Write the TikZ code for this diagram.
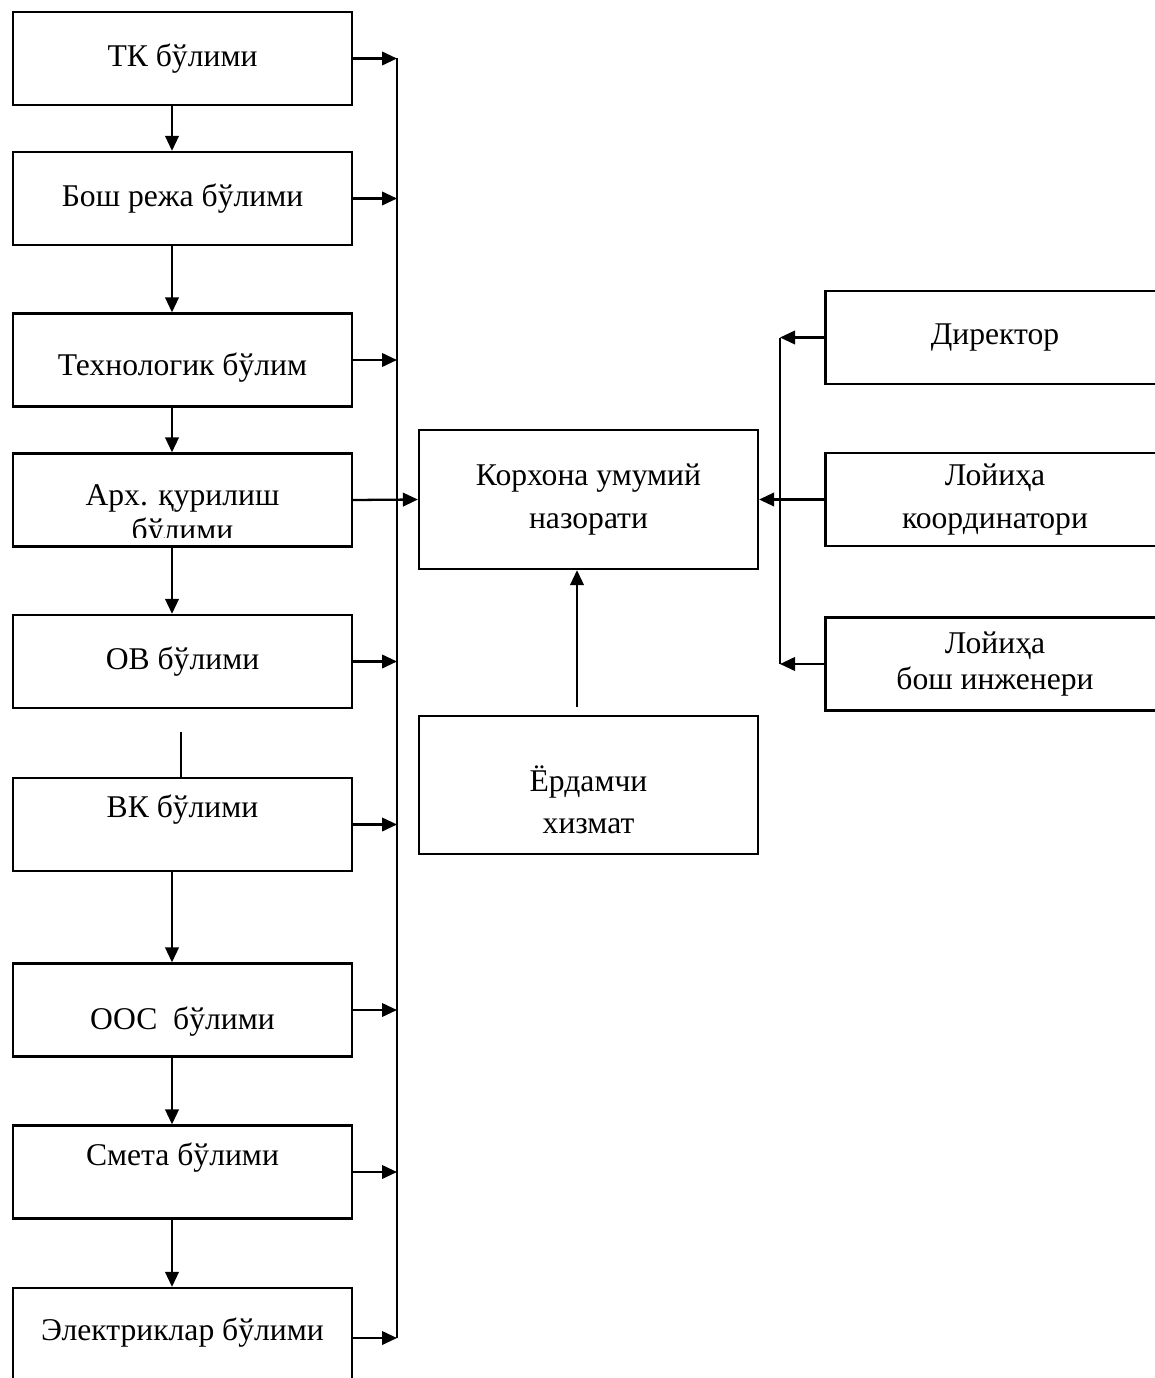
\documentclass[tikz,border=0pt]{standalone}
\usepackage{fontspec}
\setmainfont{Liberation Serif}
\usetikzlibrary{arrows.meta,positioning}
\tikzset{
>={Triangle[length=0.3cm,width=0.27cm]}, % solid arrow heads
matn/.style={font=\fontsize{18}{21.5}\selectfont, align=center, inner sep=0pt},
bolim/.style={draw, line width=1.3pt, matn, minimum width=6.78cm, minimum height=1.86cm},
chiziq/.style={line width=1.3pt},
}

\begin{document}
\begin{tikzpicture}[x=0.02cm,y=-0.02cm,chiziq]
   \useasboundingbox (0,0) rectangle (1155,1378);
   \clip (0,0) rectangle (1155,1378);
   % left column
   \node[bolim] (tk)     at (182.5,58.5)  {ТК бўлими};
   \node[bolim] (bosh)   at (182.5,198.5) {Бош режа бўлими};
   \node[bolim, label={[matn,yshift=-0.16cm]center:Технологик бўлим}] (tech) at (182.5,360) {};
   \node[bolim] (arch)   at (182.5,500)   {};
   \node[bolim] (ov)     at (182.5,661.5) {ОВ бўлими};
   \node[bolim, label={[matn,yshift=0.29cm]center:ВК бўлими}] (vk) at (182.5,824.5) {};
   \node[bolim, label={[matn,yshift=-0.24cm]center:ООС~ бўлими}] (oos) at (182.5,1010) {};
   \node[bolim, label={[matn,yshift=0.28cm]center:Смета бўлими}] (smeta) at (182.5,1172) {};
   \node[bolim, minimum height=2cm, label={[matn,yshift=0.1cm]center:Электриклар бўлими}] (elektr) at (182.5,1338) {};
   \begin{scope}
      \clip (arch.north west) rectangle ([yshift=0.2cm]arch.south east);
      \node[matn, anchor=base] (archA) at (182.5,505) {Арх. қурилиш};
      \node[matn, anchor=base] (archB) at (182.5,540) {бўлими};
   \end{scope}
   % centre
   \node[bolim, minimum height=2.78cm, font=\fontsize{18}{24}\selectfont] (korxona) at (588.5,499.5) {Корхона умумий\\назорати};
   \node[bolim, minimum height=2.76cm, label={[matn,font=\fontsize{18}{24}\selectfont,yshift=-0.3cm]center:Ёрдамчи\\хизмат}] (yordam) at (588.5,785) {};
   % right column
   \node[bolim] (direktor) at (995,337.5) {Директор};
   \node[bolim, font=\fontsize{18}{24.5}\selectfont] (koord) at (995,499.5) {Лойиҳа\\координатори};
   \node[bolim, font=\fontsize{18}{21}\selectfont] (injener) at (995,664) {Лойиҳа\\бош инженери};
   \coordinate (bus) at (397,0);
   \coordinate (rbus) at (780,0);
   \coordinate (vkstub) at (181,732);

   \draw (bus |- tk.east) -- (bus |- elektr.center);
   \foreach \n in {tk,bosh,tech,ov,vk,oos,smeta}
      \draw[->] (\n.east) -- (bus |- \n.east);
   \draw[->] (elektr.east) -- (bus |- elektr.east);
   \foreach \a/\b in {tk/bosh,bosh/tech,tech/arch,arch/ov,vk/oos,oos/smeta,smeta/elektr}
      \draw[->] ([xshift=-0.21cm]\a.south) -- ([xshift=-0.21cm]\b.north);
   \draw (vkstub) -- (vkstub |- vk.north);
   \draw[->] (arch.east) -- (korxona.west);
   \draw[->] ([xshift=-0.23cm,yshift=0.16cm]yordam.north) -- ([xshift=-0.23cm]korxona.south);

   \draw (rbus |- direktor.west) -- (rbus |- injener.west);
   \draw[->] (direktor.west) -- (rbus |- direktor.west);
   \draw[->] (injener.west) -- (rbus |- injener.west);
   \draw[->] (koord.west) -- (korxona.east);
\end{tikzpicture}
\end{document}
